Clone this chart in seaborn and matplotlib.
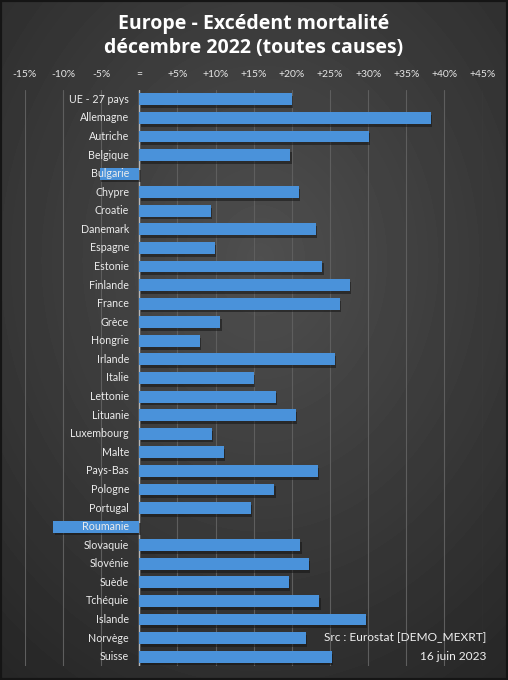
import numpy as np
import pandas as pd
import matplotlib
matplotlib.use("Agg")
import matplotlib.pyplot as plt
import matplotlib.patheffects as pe
import seaborn as sns

# excess mortality, December 2022, in % vs baseline
countries = ["UE - 27 pays", "Allemagne", "Autriche", "Belgique", "Bulgarie",
             "Chypre", "Croatie", "Danemark", "Espagne", "Estonie",
             "Finlande", "France", "Grèce", "Hongrie", "Irlande",
             "Italie", "Lettonie", "Lituanie", "Luxembourg", "Malte",
             "Pays-Bas", "Pologne", "Portugal", "Roumanie", "Slovaquie",
             "Slovénie", "Suède", "Tchéquie", "Islande", "Norvège", "Suisse"]
excess = [20.0, 38.2, 30.1, 19.8, -5.2,
          20.9, 9.4, 23.1, 9.9, 24.0,
          27.6, 26.3, 10.6, 7.9, 25.6,
          15.0, 17.9, 20.5, 9.5, 11.1,
          23.4, 17.7, 14.6, -11.3, 21.1,
          22.2, 19.6, 23.6, 29.7, 21.8, 25.2]
tick_vals = [-15, -10, -5, 0, 5, 10, 15, 20, 25, 30, 35, 40, 45]
tick_labels = ["-15%", "-10%", "-5%", "=", "+5%", "+10%", "+15%", "+20%",
               "+25%", "+30%", "+35%", "+40%", "+45%"]

df = pd.DataFrame({"pays": countries, "excedent": excess})

sns.set_theme(style="dark")
plt.rcParams["font.family"] = ["Lato", "DejaVu Sans"]

fig = plt.figure(figsize=(5.08, 6.8), dpi=100)

# dark radial background
bg = fig.add_axes([0, 0, 1, 1], zorder=-10)
yy, xx = np.mgrid[0:680, 0:508]
d = np.sqrt(((xx - 260) / 420.0) ** 2 + ((yy - 260) / 520.0) ** 2)
shade = np.clip(0.31 - 0.16 * d, 0.13, 0.31)
bg.imshow(shade, cmap="gray", vmin=0, vmax=1, aspect="auto", interpolation="bilinear")
bg.set_axis_off()
fig.patches.append(plt.Rectangle((0, 0), 1, 1, transform=fig.transFigure,
                                 fill=False, edgecolor="#151515", linewidth=3))

ax = fig.add_axes([0.049, 1 - 666 / 680, 0.901, 576 / 680])
ax.set_facecolor("none")

sns.barplot(data=df, x="excedent", y="pays", orient="h", color="#4a92da",
            width=0.64, saturation=1, ax=ax, zorder=3)
for bar in ax.patches:
    bar.set_edgecolor("none")
    bar.set_path_effects([pe.SimplePatchShadow(offset=(1, -2), shadow_rgbFace="#151515", alpha=0.55),
                          pe.Normal()])

ax.set_xlim(-15, 45)
ax.set_xticks(tick_vals)
ax.set_xticklabels(tick_labels, color="#e6e6e6", fontsize=7.5)
ax.xaxis.tick_top()
ax.tick_params(axis="x", length=0, pad=8)
ax.set_yticks([])
ax.set_xlabel("")
ax.set_ylabel("")
ax.grid(axis="x", color="#5e5e5e", linewidth=0.8, zorder=0)
ax.grid(axis="y", visible=False)
ax.axvline(0, color="#b8b8b8", linewidth=1.0, zorder=2)
for s in ax.spines.values():
    s.set_visible(False)

# category labels sit just left of the zero line, over the bars
for i, name in enumerate(countries):
    ax.text(-1.35, i, name, ha="right", va="center", color="#ececec",
            fontsize=7.7, zorder=5)

fig.text(0.5, 0.964, "Europe - Excédent mortalité", ha="center", va="center",
         color="white", fontsize=14, fontweight="bold", family=["Open Sans", "DejaVu Sans"])
fig.text(0.5, 0.930, "décembre 2022 (toutes causes)", ha="center", va="center",
         color="white", fontsize=14, fontweight="bold", family=["Open Sans", "DejaVu Sans"])

fig.text(0.958, 0.062, "Src : Eurostat [DEMO_MEXRT]", ha="right", va="center",
         color="#f0f0f0", fontsize=8.6)
fig.text(0.958, 0.035, "16 juin 2023", ha="right", va="center",
         color="#f0f0f0", fontsize=8.6)

fig.savefig("out.png", dpi=100)
